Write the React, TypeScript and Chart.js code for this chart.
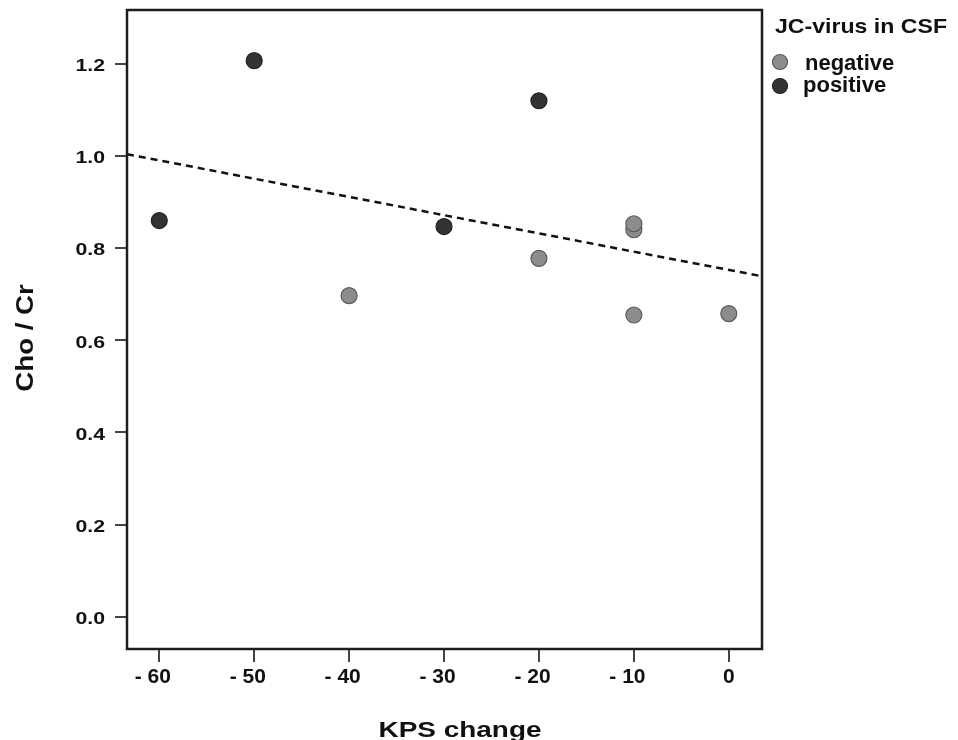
import React, { useEffect, useRef } from "react";
import { Chart, registerables } from "chart.js";

Chart.register(...registerables);

const negativeX = [-40, -20, -10, -10, -10, 0];
const negativeY = [0.697, 0.778, 0.84, 0.853, 0.655, 0.658];
const positiveX = [-60, -50, -30, -20];
const positiveY = [0.86, 1.207, 0.847, 1.12];
const fitX = [-63.4, 3.5];
const fitY = [1.004, 0.739];
const xTicks = [-60, -50, -40, -30, -20, -10, 0];
const yTicks = [0, 0.2, 0.4, 0.6, 0.8, 1.0, 1.2];
const legendLabels = ["negative", "positive"];
const legendTitle = "JC-virus in CSF";
const xTitle = "KPS change";
const yTitle = "Cho / Cr";

const NEG_FILL = "#8c8c8c";
const NEG_BORDER = "#5a5a5a";
const POS_FILL = "#333333";
const POS_BORDER = "#222222";
const FONT = "'Liberation Sans', Arial, sans-serif";

function txt(
  ctx: CanvasRenderingContext2D,
  s: string,
  x: number,
  y: number,
  size: number,
  sx: number,
  align: CanvasTextAlign,
  baseline: CanvasTextBaseline,
  rot = 0
) {
  ctx.save();
  ctx.translate(x, y);
  if (rot) ctx.rotate(rot);
  ctx.scale(sx, 1);
  ctx.font = `bold ${size}px ${FONT}`;
  ctx.fillStyle = "#111";
  ctx.textAlign = align;
  ctx.textBaseline = baseline;
  ctx.fillText(s, 0, 0);
  ctx.restore();
}

export default function App() {
  const ref = useRef<HTMLCanvasElement | null>(null);
  useEffect(() => {
    document.body.style.margin = "0";
    const canvas = ref.current;
    if (!canvas) return;

    const framePlugin = {
      id: "frame",
      afterDatasetsDraw(chart: any) {
        const { ctx, chartArea } = chart;
        ctx.save();
        ctx.strokeStyle = "#1e1e1e";
        ctx.lineWidth = 2.5;
        ctx.strokeRect(chartArea.left, chartArea.top, chartArea.right - chartArea.left, chartArea.bottom - chartArea.top);
        ctx.restore();
      },
      afterDraw(chart: any) {
        const { ctx } = chart;
        const xs = chart.scales.x;
        const ys = chart.scales.y;
        // x tick labels: digits centred on the tick, "- " hanging to the left
        xTicks.forEach((v) => {
          const px = xs.getPixelForValue(v);
          const digits = String(Math.abs(v));
          ctx.save();
          ctx.font = `bold 21px ${FONT}`;
          const w = ctx.measureText(digits).width;
          ctx.restore();
          txt(ctx, digits, px, 683, 21, 1, "center", "alphabetic");
          if (v < 0) txt(ctx, "- ", px - w / 2, 683, 21, 1, "right", "alphabetic");
        });
        // y tick labels
        yTicks.forEach((v) => {
          const py = ys.getPixelForValue(v);
          txt(ctx, v.toFixed(1), 105, py + 2.5, 17, 1.25, "right", "middle");
        });
        // axis titles
        txt(ctx, xTitle, 460, 737, 21.5, 1.3, "center", "alphabetic");
        txt(ctx, yTitle, 33, 338, 23, 1.2, "center", "alphabetic", -Math.PI / 2);
        // legend
        txt(ctx, legendTitle, 775, 33, 21, 1.1, "left", "alphabetic");
        const fills = [NEG_FILL, POS_FILL];
        const borders = [NEG_BORDER, POS_BORDER];
        legendLabels.forEach((lab, i) => {
          const cy = 62 + i * 24;
          ctx.save();
          ctx.beginPath();
          ctx.arc(780, cy, 7.5, 0, Math.PI * 2);
          ctx.fillStyle = fills[i];
          ctx.fill();
          ctx.lineWidth = 1.2;
          ctx.strokeStyle = borders[i];
          ctx.stroke();
          ctx.restore();
          txt(ctx, lab, i === 0 ? 805 : 803, 70 + i * 22, 22, 1, "left", "alphabetic");
        });
      },
    };

    const chart = new Chart(canvas, {
      type: "scatter",
      data: {
        datasets: [
          {
            type: "line",
            label: "fit",
            data: fitX.map((x, i) => ({ x, y: fitY[i] })),
            borderColor: "#111",
            borderWidth: 2.5,
            borderDash: [7, 5],
            pointRadius: 0,
            fill: false,
            order: 2,
          } as any,
          {
            label: "negative",
            data: negativeX.map((x, i) => ({ x, y: negativeY[i] })),
            backgroundColor: NEG_FILL,
            borderColor: NEG_BORDER,
            borderWidth: 1.2,
            pointRadius: 8,
            order: 1,
          },
          {
            label: "positive",
            data: positiveX.map((x, i) => ({ x, y: positiveY[i] })),
            backgroundColor: POS_FILL,
            borderColor: POS_BORDER,
            borderWidth: 1.2,
            pointRadius: 8,
            order: 0,
          },
        ],
      },
      options: {
        responsive: false,
        animation: false,
        layout: { padding: { top: 10, right: 196, left: 0, bottom: 0 } },
        plugins: { legend: { display: false }, tooltip: { enabled: false } },
        scales: {
          x: {
            type: "linear",
            min: -63.4,
            max: 3.5,
            afterBuildTicks: (s: any) => {
              s.ticks = xTicks.map((v) => ({ value: v }));
            },
            afterFit: (s: any) => {
              s.height = 91;
              s.paddingLeft = 0;
              s.paddingRight = 0;
              s.paddingTop = 0;
              s.paddingBottom = 0;
            },
            grid: { drawOnChartArea: false, drawTicks: true, tickLength: 13, lineWidth: 2, color: "#444" },
            border: { display: false },
            ticks: { display: false },
          },
          y: {
            type: "linear",
            min: -0.07,
            max: 1.317,
            afterBuildTicks: (s: any) => {
              s.ticks = yTicks.map((v) => ({ value: v }));
            },
            afterFit: (s: any) => {
              s.width = 127;
              s.paddingLeft = 0;
              s.paddingRight = 0;
              s.paddingTop = 0;
              s.paddingBottom = 0;
            },
            grid: { drawOnChartArea: false, drawTicks: true, tickLength: 12, lineWidth: 2, color: "#444" },
            border: { display: false },
            ticks: { display: false },
          },
        },
      },
      plugins: [framePlugin],
    });
    return () => chart.destroy();
  }, []);
  return <canvas ref={ref} width={958} height={740} style={{ display: "block" }} />;
}
